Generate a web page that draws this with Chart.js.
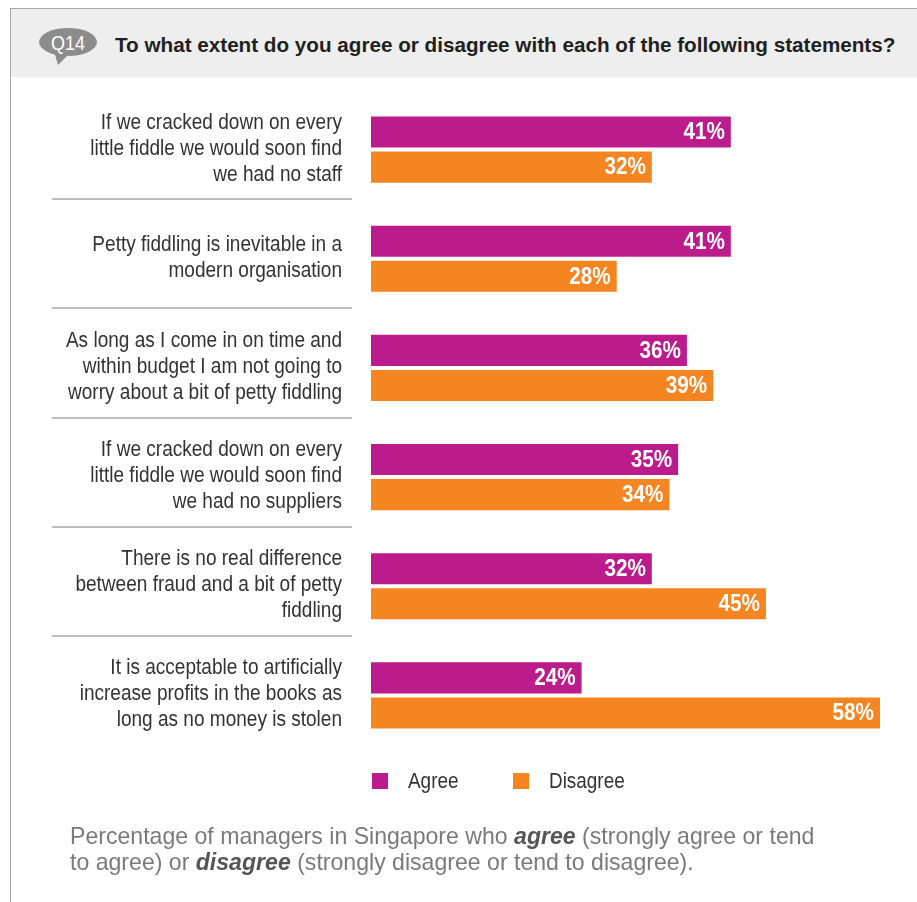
<!DOCTYPE html>
<html>
<head>
<meta charset="utf-8">
<script src="https://cdn.jsdelivr.net/npm/chart.js@4/dist/chart.umd.min.js"></script>
<style>
  html, body { margin: 0; padding: 0; background: #ffffff; }
  #page { position: relative; width: 917px; height: 902px; overflow: hidden; background: #fff; }
  #frame { position: absolute; left: 10px; top: 8px; width: 920px; height: 900px;
           border-left: 1px solid #a8a8a8; border-top: 1px solid #a8a8a8; }
  #band { position: absolute; left: 11px; top: 9px; width: 906px; height: 68px; background: #eeeeee; }
  #bubble { position: absolute; left: 37px; top: 25px; }
  #title { position: absolute; left: 115px; top: 33px; font-family: "Liberation Sans", Arial, sans-serif;
           font-weight: bold; font-size: 21px; color: #1f1f1f; white-space: nowrap;
           transform: scaleX(0.984); transform-origin: 0 0; }
  #chartBox { position: absolute; left: 0; top: 0; width: 917px; height: 902px; }
  #legend { position: absolute; left: 372px; top: 766px; font-family: "Liberation Sans", Arial, sans-serif;
            font-size: 22px; color: #333; }
  .item { position: absolute; top: 0; white-space: nowrap; }
  .sw { position: absolute; top: 7px; left: 0; width: 16px; height: 16px; }
  .lt { position: absolute; left: 36px; top: 0; line-height: 30px; transform: scaleX(0.86); transform-origin: 0 0; }
  #note { position: absolute; left: 70px; top: 823px; font-family: "Liberation Sans", Arial, sans-serif;
          font-size: 24px; line-height: 26px; color: #7a7a7a; white-space: nowrap;
          transform: scaleX(0.962); transform-origin: 0 0; }
  #note b { font-style: italic; color: #555; }
</style>
</head>
<body>
<div id="page">
  <div id="frame"></div>
  <div id="band"></div>
  <svg id="bubble" width="62" height="46" viewBox="0 0 62 46">
    <path d="M17 26 L21 40 L32 29 Z" fill="#8c8c8c"/>
    <ellipse cx="31" cy="17" rx="29" ry="14" fill="#8c8c8c"/>
    <text x="31" y="25" text-anchor="middle" font-family="Liberation Sans, Arial, sans-serif"
          font-size="21" fill="#ffffff" transform="translate(31 0) scale(0.86 1) translate(-31 0)">Q14</text>
  </svg>
  <div id="title">To what extent do you agree or disagree with each of the following statements?</div>
  <div id="chartBox"><canvas id="chart" width="917" height="902"></canvas></div>
  <div id="legend"></div>
  <div id="note">Percentage of managers in Singapore who <b>agree</b> (strongly agree or tend<br>to agree) or <b>disagree</b> (strongly disagree or tend to disagree).</div>
</div>
<script>
// Statements (one array entry per wrapped line)
const statements = [
  ["If we cracked down on every", "little fiddle we would soon find", "we had no staff"],
  ["Petty fiddling is inevitable in a", "modern organisation"],
  ["As long as I come in on time and", "within budget I am not going to", "worry about a bit of petty fiddling"],
  ["If we cracked down on every", "little fiddle we would soon find", "we had no suppliers"],
  ["There is no real difference", "between fraud and a bit of petty", "fiddling"],
  ["It is acceptable to artificially", "increase profits in the books as", "long as no money is stolen"]
];
const seriesNames = ["Agree", "Disagree"];
const agreeValues = [41, 41, 36, 35, 32, 24];
const disagreeValues = [32, 28, 39, 34, 45, 58];
const seriesColors = ["#bc1b8c", "#f48521"];

const sans = '"Liberation Sans", Arial, sans-serif';
const NARROW = 0.865;   // horizontal squeeze for the condensed typeface look

// Statement labels, right-aligned beside each category of the y scale
const statementLabels = {
  id: 'statementLabels',
  afterDraw(chart) {
    const y = chart.scales.y;
    const ctx = chart.ctx;
    const lineH = 26;
    ctx.save();
    ctx.font = '22px ' + sans;
    ctx.fillStyle = '#333333';
    ctx.textAlign = 'right';
    ctx.textBaseline = 'middle';
    ctx.scale(NARROW, 1);
    chart.data.labels.forEach((lines, i) => {
      const cy = y.getPixelForValue(i) - 1;
      lines.forEach((t, k) => {
        const ty = cy + (k - (lines.length - 1) / 2) * lineH;
        ctx.fillText(t, 342 / NARROW, ty);
      });
    });
    ctx.restore();
  }
};

// White percentage labels inside the right end of each bar
const valueLabels = {
  id: 'valueLabels',
  afterDatasetsDraw(chart) {
    const ctx = chart.ctx;
    const s = 0.9;
    ctx.save();
    ctx.font = 'bold 23px ' + sans;
    ctx.fillStyle = '#ffffff';
    ctx.textAlign = 'right';
    ctx.textBaseline = 'middle';
    ctx.scale(s, 1);
    chart.data.datasets.forEach((ds, di) => {
      chart.getDatasetMeta(di).data.forEach((bar, i) => {
        ctx.fillText(ds.data[i] + '%', (bar.x - 6) / s, bar.y + 1);
      });
    });
    ctx.restore();
  }
};

// Thin rules separating the statements in the label column
const separators = {
  id: 'separators',
  afterDraw(chart) {
    const y = chart.scales.y;
    const ctx = chart.ctx;
    ctx.save();
    ctx.strokeStyle = '#a9a9a9';
    ctx.lineWidth = 1.5;
    for (let i = 0; i < statements.length - 1; i++) {
      const py = Math.round((y.getPixelForValue(i) + y.getPixelForValue(i + 1)) / 2) - 5;
      ctx.beginPath();
      ctx.moveTo(52, py);
      ctx.lineTo(352, py);
      ctx.stroke();
    }
    ctx.restore();
  }
};

const chart = new Chart(document.getElementById('chart'), {
  type: 'bar',
  data: {
    labels: statements,
    datasets: [
      { label: seriesNames[0], data: agreeValues, backgroundColor: seriesColors[0] },
      { label: seriesNames[1], data: disagreeValues, backgroundColor: seriesColors[1] }
    ]
  },
  options: {
    indexAxis: 'y',
    responsive: false,
    animation: false,
    categoryPercentage: 0.642,
    barPercentage: 0.886,
    layout: { padding: { top: 95, bottom: 152, left: 0, right: 37 } },
    plugins: { legend: { display: false }, tooltip: { enabled: false } },
    scales: {
      x: { min: 0, max: 58, display: false },
      y: {
        grid: { display: false },
        border: { display: false },
        afterFit(scale) { scale.width = 371; },
        ticks: { display: false }
      }
    }
  },
  plugins: [statementLabels, valueLabels, separators]
});

// Legend built from the series names and colours
const legend = document.getElementById('legend');
const offsets = [0, 141];
seriesNames.forEach((name, i) => {
  const item = document.createElement('div');
  item.className = 'item';
  item.style.left = offsets[i] + 'px';
  item.innerHTML = '<span class="sw" style="background:' + seriesColors[i] + '"></span><span class="lt">' + name + '</span>';
  legend.appendChild(item);
});
</script>
</body>
</html>
